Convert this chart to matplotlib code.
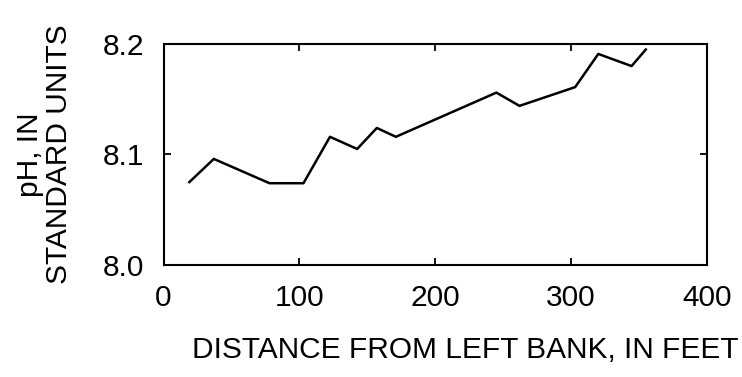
import matplotlib.pyplot as plt

# pH across the section
distance_ft = [19, 37, 78, 103, 122.5, 142.5, 157, 171, 245, 262, 303, 320, 344.5, 355]
ph_units = [8.075, 8.096, 8.074, 8.074, 8.116, 8.105, 8.124, 8.116, 8.156, 8.144, 8.161, 8.191, 8.180, 8.195]

x_ticks = [0, 100, 200, 300, 400]
y_ticks = [8.0, 8.1, 8.2]
y_tick_labels = ['8.0', '8.1', '8.2']

plt.rcParams['font.family'] = ['Liberation Sans', 'DejaVu Sans']

fig = plt.figure(figsize=(7.42, 3.77), dpi=100)
ax = fig.add_axes([0.2204, 0.2971, 0.7324, 0.5862])

ax.plot(distance_ft, ph_units, color='black', linewidth=1.8)

ax.set_xlim(0, 400)
ax.set_ylim(8.0, 8.2)
ax.set_xticks(x_ticks)
ax.set_yticks(y_ticks)
ax.set_yticklabels(y_tick_labels)
ax.tick_params(direction='in', length=5, width=1.3, top=True, right=True,
               labelsize=21.5, pad=14)
for s in ax.spines.values():
    s.set_linewidth(1.5)

ax.set_xlabel('DISTANCE FROM LEFT BANK, IN FEET', fontsize=21.5)
ax.xaxis.set_label_coords(0.555, -0.32)
ax.set_ylabel('pH, IN\nSTANDARD UNITS', fontsize=21.5, linespacing=1.05, labelpad=21)

fig.savefig('out.png', dpi=100)
